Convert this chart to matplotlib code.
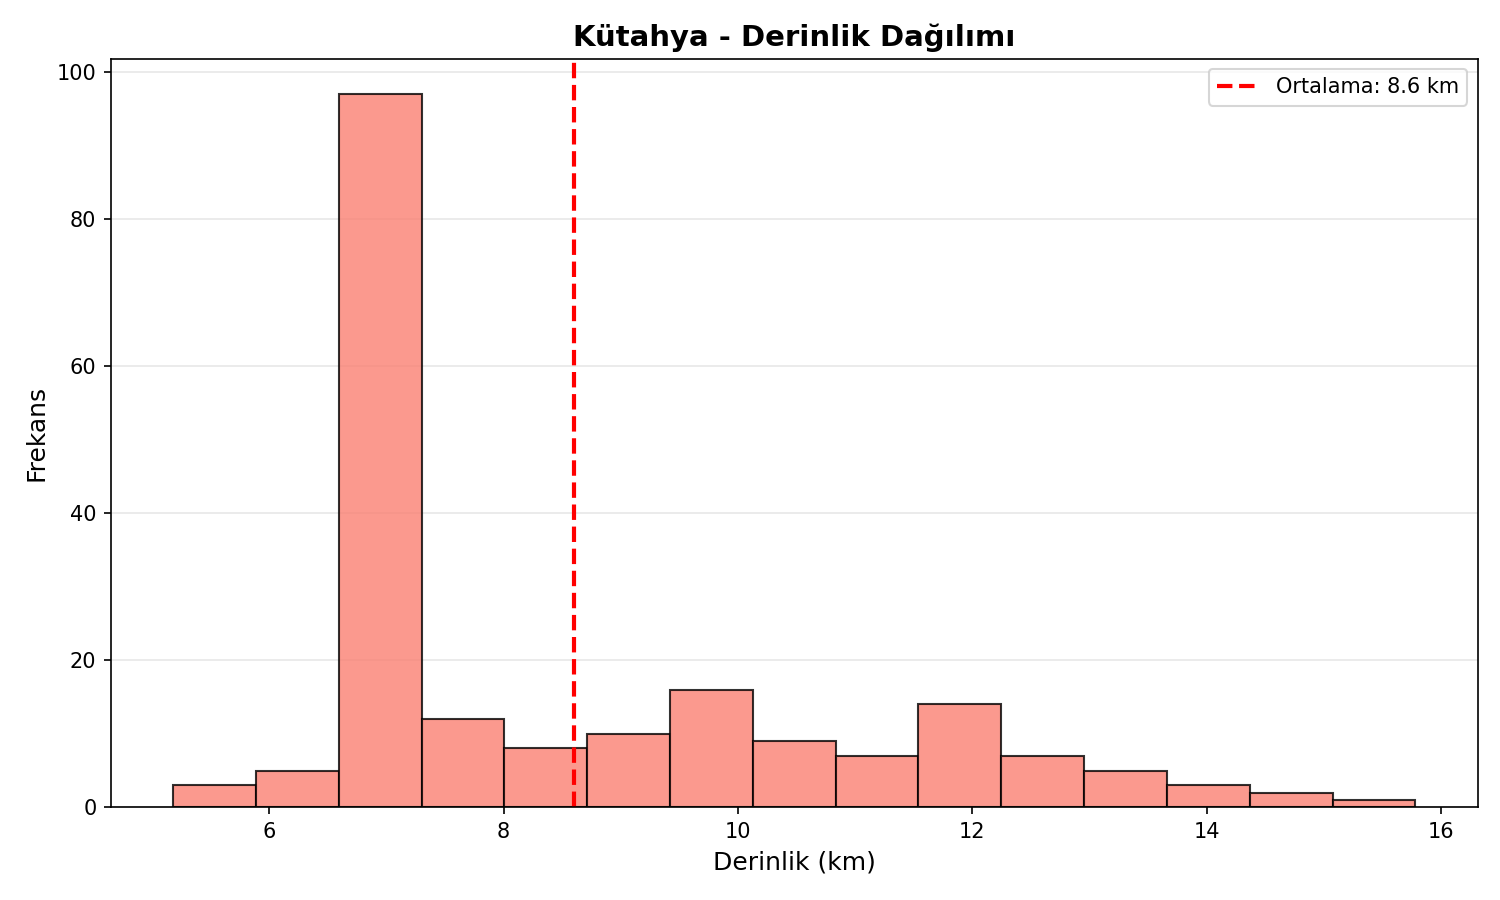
import matplotlib
matplotlib.use("Agg")
import matplotlib.pyplot as plt
import numpy as np

depth_min = 5.18
depth_max = 15.78
counts = [3, 5, 97, 12, 8, 10, 16, 9, 7, 14, 7, 5, 3, 2, 1]
mean_depth = 8.6

edges = np.linspace(depth_min, depth_max, len(counts) + 1)
widths = np.diff(edges)

fig, ax = plt.subplots(figsize=(10, 6), dpi=150)
ax.bar(edges[:-1], counts, width=widths, align='edge', color='salmon',
       alpha=0.8, edgecolor='black', linewidth=1.0)
ax.axvline(mean_depth, color='red', linestyle='--', linewidth=2,
           label=f'Ortalama: {mean_depth:.1f} km')
ax.set_title('Kütahya - Derinlik Dağılımı', fontsize=14, fontweight='bold')
ax.set_xlabel('Derinlik (km)', fontsize=12)
ax.set_ylabel('Frekans', fontsize=12)
ax.grid(axis='y', alpha=0.3)
ax.set_axisbelow(True)
ax.legend(loc='upper right')
fig.subplots_adjust(left=0.074, right=0.985, top=0.935, bottom=0.103)
fig.savefig('out.png', dpi=150)
